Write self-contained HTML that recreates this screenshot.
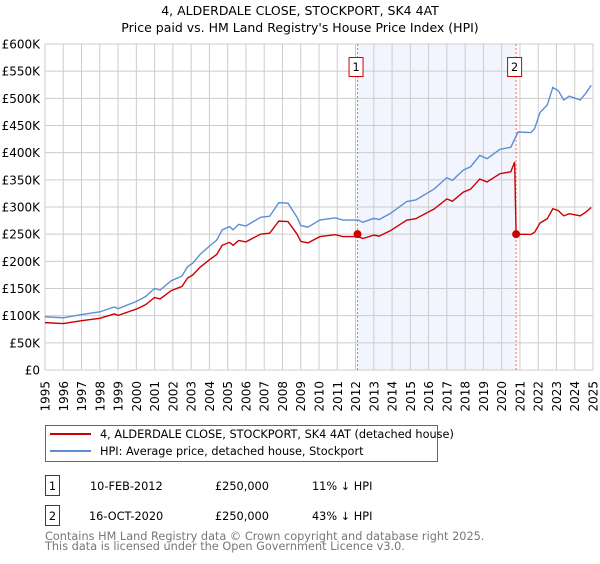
<!DOCTYPE html>
<html><head><meta charset="utf-8"><style>
body{margin:0;background:#fff;font-family:"DejaVu Sans","Liberation Sans",sans-serif;}
svg text{font-family:"DejaVu Sans","Liberation Sans",sans-serif;}
</style></head><body>
<svg id="c" width="600" height="560" viewBox="0 0 600 560">
<text x="300" y="15" text-anchor="middle" font-size="12.5" fill="#000">4, ALDERDALE CLOSE, STOCKPORT, SK4 4AT</text>
<text x="300" y="32" text-anchor="middle" font-size="12.5" fill="#000">Price paid vs. HM Land Registry's House Price Index (HPI)</text>
<g id="plot"></g>
<g>
<rect x="45.5" y="425.5" width="392" height="36" fill="#fff" stroke="#666"/>
<line x1="50" y1="434" x2="91" y2="434" stroke="#cc0000" stroke-width="2"/>
<text x="100" y="438" font-size="11.3">4, ALDERDALE CLOSE, STOCKPORT, SK4 4AT (detached house)</text>
<line x1="50" y1="451" x2="91" y2="451" stroke="#5b8fd4" stroke-width="2"/>
<text x="100" y="455" font-size="11.3">HPI: Average price, detached house, Stockport</text>
</g>
<g font-size="11.3">
<rect x="45.5" y="475.5" width="14" height="20" fill="#fff" stroke="#cc0000"/>
<text x="52.5" y="490" text-anchor="middle">1</text>
<text x="90" y="490">10-FEB-2012</text>
<text x="215" y="490">£250,000</text>
<text x="312" y="490">11% ↓ HPI</text>
<rect x="45.5" y="505.5" width="14" height="20" fill="#fff" stroke="#cc0000"/>
<text x="52.5" y="520" text-anchor="middle">2</text>
<text x="89" y="520">16-OCT-2020</text>
<text x="215" y="520">£250,000</text>
<text x="312" y="520">43% ↓ HPI</text>
</g>
<text x="45" y="540" font-size="11.3" fill="#777">Contains HM Land Registry data © Crown copyright and database right 2025.</text>
<text x="45" y="550" font-size="11.3" fill="#777">This data is licensed under the Open Government Licence v3.0.</text>
</svg>
<script>
const hpiYears=[1995,1996,1997,1998,1998.8,1999,2000,2000.5,2001,2001.3,2001.9,2002.5,2002.8,2003.1,2003.5,2004,2004.4,2004.7,2005.1,2005.3,2005.6,2006,2006.8,2007.3,2007.8,2008.3,2008.8,2009,2009.4,2010.05,2010.9,2011.3,2012.15,2012.4,2013,2013.3,2013.9,2014.8,2015.3,2016,2016.3,2017,2017.3,2017.9,2018.3,2018.8,2019.2,2019.9,2020.5,2020.9,2021.6,2021.8,2022.1,2022.5,2022.8,2023.1,2023.4,2023.7,2024.3,2024.6,2024.9];
const hpiValues=[98,96,102,107,116,113,126,135,150,147,164,173,190,197,213,228,239,258,264,258,268,265,281,283,308,307,281,266,263,276,280,276,276,272,279,277,288,310,313,327,333,354,349,368,374,395,389,406,410,438,437,444,474,488,520,514,497,504,497,509,524];
const saleYears=[2012.11,2020.79];
const salePrices=[250,250];
const saleHpi=[281,438];
const yTicks=[0,50,100,150,200,250,300,350,400,450,500,550,600];
const yTickLabels=["£0","£50K","£100K","£150K","£200K","£250K","£300K","£350K","£400K","£450K","£500K","£550K","£600K"];
const xTicks=[1995,1996,1997,1998,1999,2000,2001,2002,2003,2004,2005,2006,2007,2008,2009,2010,2011,2012,2013,2014,2015,2016,2017,2018,2019,2020,2021,2022,2023,2024,2025];

const X0=45,X1=593,Y0=370,Y1=44;
const xs=y=>X0+(y-1995)/30*(X1-X0);
const ys=v=>Y0-v/600*(Y0-Y1);
const NS="http://www.w3.org/2000/svg";
const g=document.getElementById('plot');
function mk(t,a){const e=document.createElementNS(NS,t);for(const k in a)e.setAttribute(k,a[k]);g.appendChild(e);return e;}
function interp(t){for(let i=1;i<hpiYears.length;i++){if(t<=hpiYears[i]){const f=(t-hpiYears[i-1])/(hpiYears[i]-hpiYears[i-1]);return hpiValues[i-1]+f*(hpiValues[i]-hpiValues[i-1]);}}return hpiValues[hpiValues.length-1];}

let e=mk('rect',{x:xs(saleYears[0]),y:Y1,width:xs(saleYears[1])-xs(saleYears[0]),height:Y0-Y1,fill:'#f2f5fd'});


xTicks.forEach(t=>{const l=mk('line',{x1:xs(t),x2:xs(t),y1:Y1,y2:Y0,stroke:'#cccccc'});


const tx=mk('text',{x:0,y:0,'font-size':12,'text-anchor':'end',transform:`translate(${xs(t)+4.5},381) rotate(-90)`});
tx.textContent=t;

});
yTicks.forEach((v,i)=>{const l=mk('line',{x1:X0,x2:X1,y1:ys(v),y2:ys(v),stroke:'#cccccc'});


const tx=mk('text',{x:40,y:ys(v)+4.5,'font-size':12,'text-anchor':'end'});
tx.textContent=yTickLabels[i];

});
e=mk('rect',{x:X0,y:Y1,width:X1-X0,height:Y0-Y1,fill:'none',stroke:'#cccccc'});



saleYears.forEach((t,i)=>{const l=mk('line',{x1:xs(t),x2:xs(t),y1:Y1,y2:Y0,stroke:'#ff6666','stroke-dasharray':'2,2'});


const r=mk('rect',{x:xs(t)-8.5,y:57.5,width:14,height:19,fill:'#fff',stroke:'#cc0000'});


const tx=mk('text',{x:xs(t)-1.5,y:71,'font-size':11.3,'text-anchor':'middle'});tx.textContent=i+1;

});

const hp=hpiYears.map((t,i)=>xs(t)+','+ys(hpiValues[i])).join(' ');
e=mk('polyline',{points:hp,fill:'none',stroke:'#5b8fd4','stroke-width':1.4});



const r1=salePrices[0]/saleHpi[0],r2=salePrices[1]/saleHpi[1];
let pts=[];
hpiYears.forEach((t,i)=>{if(t<saleYears[1])pts.push([t,hpiValues[i]*r1]);});
const h2=interp(saleYears[1]);
pts.push([saleYears[1]-0.08,h2*r1]);pts.push([saleYears[1],salePrices[1]]);
hpiYears.forEach((t,i)=>{if(t>saleYears[1])pts.push([t,hpiValues[i]*r2]);});
e=mk('polyline',{points:pts.map(p=>xs(p[0])+','+ys(p[1])).join(' '),fill:'none',stroke:'#cc0000','stroke-width':1.4});


saleYears.forEach((t,i)=>{const c=mk('circle',{cx:xs(t),cy:ys(salePrices[i]),r:4,fill:'#cc0000'});

});
</script>
</body></html>
